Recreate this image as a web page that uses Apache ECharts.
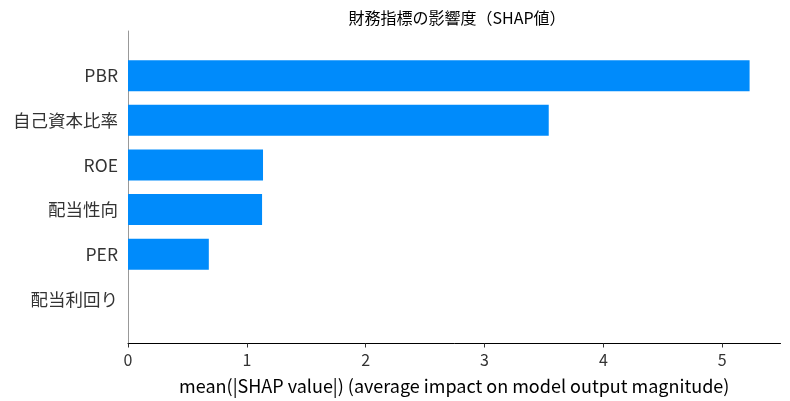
<!DOCTYPE html>
<html>
<head>
<meta charset="utf-8">
<script src="https://cdn.jsdelivr.net/npm/echarts@6/dist/echarts.min.js"></script>
<style>html,body{margin:0;padding:0;background:#fff}#c{width:790px;height:401px}</style>
</head>
<body>
<div id="c"></div>
<script>
const categories = ['PBR', '自己資本比率', 'ROE', '配当性向', 'PER', '配当利回り'];
const shapValues = [5.23, 3.54, 1.136, 1.128, 0.68, 0.0];
const xTicks = [0, 1, 2, 3, 4, 5];
const titleText = '財務指標の影響度（SHAP値）';
const xAxisName = 'mean(|SHAP value|) (average impact on model output magnitude)';

const FONT = '"Noto Sans CJK JP", "Noto Sans", sans-serif';
const chart = echarts.init(document.getElementById('c'), null, {renderer: 'canvas'});
chart.setOption({
  animation: false,
  title: {
    text: titleText,
    left: 452, top: 5, textAlign: 'center',
    textStyle: {fontFamily: FONT, fontSize: 16, fontWeight: 'normal', color: '#000'}
  },
  grid: {left: 128, right: 9.5, top: 31, bottom: 57.5, containLabel: false},
  xAxis: {
    type: 'value', min: 0, max: 5.49,
    axisLine: {show: true, lineStyle: {color: '#000', width: 1}},
    axisTick: {show: true, length: 4, lineStyle: {color: '#333'}, customValues: xTicks},
    splitLine: {show: false},
    axisLabel: {
      margin: 8, fontFamily: FONT, fontSize: 16, color: '#333',
      customValues: xTicks,
      formatter: v => String(v)
    },
    name: xAxisName, nameLocation: 'middle', nameGap: 34,
    nameTextStyle: {fontFamily: FONT, fontSize: 18, color: '#000'}
  },
  yAxis: {
    type: 'category', inverse: true, data: categories,
    boundaryGap: false, min: -1, max: 6,
    axisLine: {show: true, lineStyle: {color: '#999', width: 1}},
    axisTick: {show: false},
    splitLine: {show: false},
    axisLabel: {
      margin: 10, fontFamily: FONT, fontSize: 17.5, color: '#333',
      formatter: v => categories.includes(v) ? v : ''
    }
  },
  series: [{
    type: 'bar',
    barWidth: 31,
    itemStyle: {color: '#008bfb'},
    data: shapValues
  }]
});
</script>
</body>
</html>
